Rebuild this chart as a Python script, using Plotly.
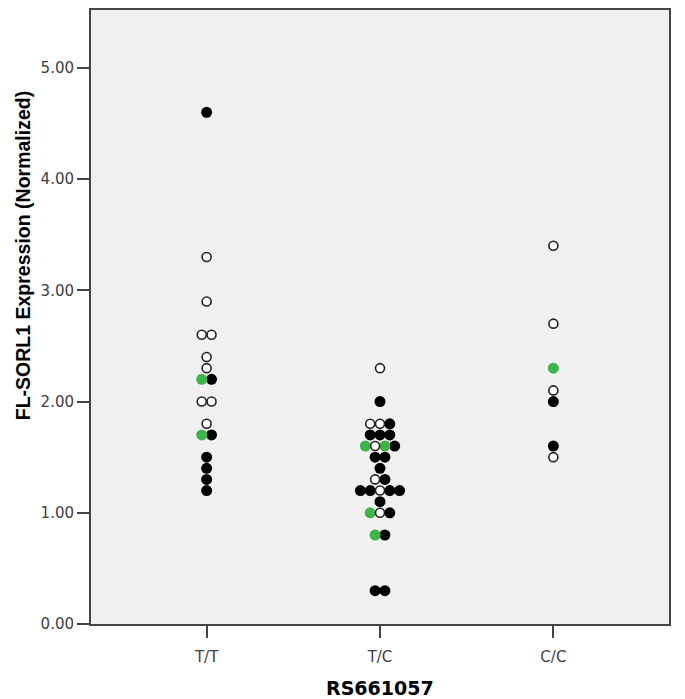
import plotly.graph_objects as go
from collections import defaultdict

categories = ["T/T", "T/C", "C/C"]

tt_values = [4.6, 3.3, 2.9, 2.6, 2.6, 2.4, 2.3, 2.2, 2.2, 2.0, 2.0, 1.8, 1.7, 1.7, 1.5, 1.4, 1.3, 1.2]
tt_types = ["B", "O", "O", "O", "O", "O", "O", "G", "B", "O", "O", "O", "G", "B", "B", "B", "B", "B"]

tc_values = [2.3, 2.0, 1.8, 1.8, 1.8, 1.7, 1.7, 1.7, 1.6, 1.6, 1.6, 1.6, 1.5, 1.5, 1.4,
             1.3, 1.3, 1.2, 1.2, 1.2, 1.2, 1.2, 1.1, 1.0, 1.0, 1.0, 0.8, 0.8, 0.3, 0.3]
tc_types = ["O", "B", "O", "O", "B", "B", "B", "B", "G", "O", "G", "B", "B", "B", "B",
            "O", "B", "B", "B", "O", "B", "B", "B", "G", "O", "B", "G", "B", "B", "B"]

cc_values = [3.4, 2.7, 2.3, 2.1, 2.0, 1.6, 1.5]
cc_types = ["O", "O", "G", "O", "B", "B", "O"]

y_ticks = [0, 1, 2, 3, 4, 5]
y_tick_labels = ["0.00", "1.00", "2.00", "3.00", "4.00", "5.00"]

groups = [(tt_values, tt_types), (tc_values, tc_types), (cc_values, cc_types)]
STEP = 0.0565  # horizontal dot spacing in category units

pts = {"B": ([], []), "O": ([], []), "G": ([], [])}
for gi, (vals, types) in enumerate(groups):
    counts = defaultdict(int)
    for v in vals:
        counts[v] += 1
    seen = defaultdict(int)
    for v, t in zip(vals, types):
        n = counts[v]
        i = seen[v]
        seen[v] += 1
        x = (gi + 1) + (i - (n - 1) / 2) * STEP
        pts[t][0].append(x)
        pts[t][1].append(v)

fig = go.Figure()
fig.add_trace(go.Scatter(x=pts["B"][0], y=pts["B"][1], mode="markers",
                         marker=dict(size=11, color="#000000", line=dict(width=0)),
                         showlegend=False, hoverinfo="y"))
fig.add_trace(go.Scatter(x=pts["G"][0], y=pts["G"][1], mode="markers",
                         marker=dict(size=11, color="#3DB54A", line=dict(width=0)),
                         showlegend=False, hoverinfo="y"))
fig.add_trace(go.Scatter(x=pts["O"][0], y=pts["O"][1], mode="markers",
                         marker=dict(size=9, color="#FFFFFF", line=dict(width=1.6, color="#222222")),
                         showlegend=False, hoverinfo="y"))

tickfont = dict(family="DejaVu Sans, sans-serif", size=15, color="#404040")

fig.update_layout(
    width=677, height=691,
    margin=dict(l=83, r=16, t=0, b=75),
    paper_bgcolor="#FFFFFF",
    plot_bgcolor="#F0F0F0",
    font=dict(family="Liberation Sans, Arial, sans-serif", color="#404040"),
    xaxis=dict(range=[0.333, 3.667], tickmode="array", tickvals=[1, 2, 3], ticktext=categories,
               showgrid=False, zeroline=False, showline=True, linecolor="#444444", linewidth=2,
               mirror=True, ticks="outside", ticklen=12, tickwidth=1.5, tickcolor="#444444",
               tickfont=tickfont, ticklabelstandoff=6),
    yaxis=dict(range=[0, 5.52], tickmode="array", tickvals=y_ticks, ticktext=y_tick_labels,
               showgrid=False, zeroline=False, showline=True, linecolor="#444444", linewidth=2,
               mirror=True, ticks="outside", ticklen=12, tickwidth=1.5, tickcolor="#444444",
               tickfont=tickfont),
    annotations=[
        dict(text="<b>FL-SORL1 Expression (Normalized)</b>", textangle=-90,
             xref="paper", yref="paper", x=-0.1176, y=0.599, xanchor="center", yanchor="middle",
             showarrow=False, font=dict(family="Liberation Sans, Arial, sans-serif", size=19.5, color="#000000")),
        dict(text="<b>RS661057</b>", xref="paper", yref="paper", x=0.5, y=-0.104,
             xanchor="center", yanchor="middle", showarrow=False,
             font=dict(family="DejaVu Sans, sans-serif", size=19, color="#000000")),
    ],
)

fig.write_html("out.html")
